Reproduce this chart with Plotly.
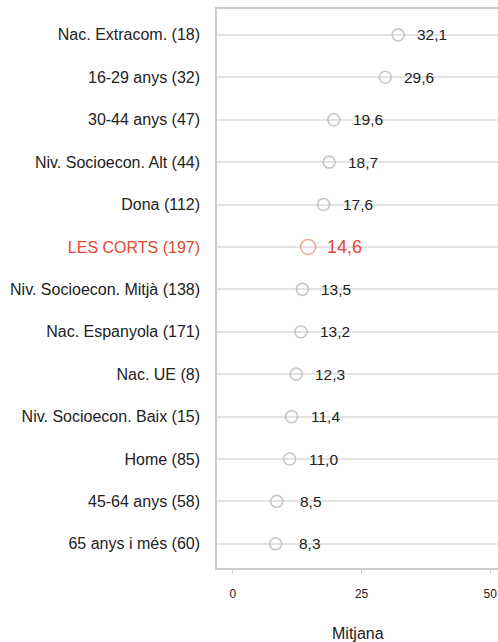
import plotly.graph_objects as go

categories = ["Nac. Extracom. (18)", "16-29 anys (32)", "30-44 anys (47)",
              "Niv. Socioecon. Alt (44)", "Dona (112)", "LES CORTS (197)",
              "Niv. Socioecon. Mitjà (138)", "Nac. Espanyola (171)", "Nac. UE (8)",
              "Niv. Socioecon. Baix (15)", "Home (85)", "45-64 anys (58)",
              "65 anys i més (60)"]
values = [32.1, 29.6, 19.6, 18.7, 17.6, 14.6, 13.5, 13.2, 12.3, 11.4, 11.0, 8.5, 8.3]
highlight = "LES CORTS (197)"
x_ticks = [0, 25, 50]

RED = "#e4472f"
RED_MARK = "#e98a74"
GRAY_MARK = "#a9b4b0"
FONT = "Liberation Sans, Arial, sans-serif"

n = len(categories)
ypos = list(range(n))

fig = go.Figure()
fig.add_trace(go.Scatter(
    x=values, y=ypos, mode="markers",
    marker=dict(
        symbol="circle-open",
        size=[15 if c == highlight else 12 for c in categories],
        color=[RED_MARK if c == highlight else GRAY_MARK for c in categories],
        line=dict(width=1.6),
    ),
    hoverinfo="skip", showlegend=False,
))

for c, v, y in zip(categories, values, ypos):
    hl = c == highlight
    fig.add_annotation(
        x=v, y=y, xref="x", yref="y",
        text=f"{v:.1f}".replace(".", ","),
        showarrow=False, xanchor="center", yanchor="middle",
        xshift=36 if hl else 34,
        font=dict(family=FONT, size=18 if hl else 15.5, color=RED if hl else "#222222"),
    )

fig.add_annotation(
    x=0.5, y=0, xref="paper", yref="paper", yshift=-65,
    text="Mitjana", showarrow=False, xanchor="center", yanchor="middle",
    font=dict(family=FONT, size=16, color="#222222"),
)

ticktext = [f"<span style='color:{RED}'>{c}</span>" if c == highlight else c
            for c in categories]

fig.update_layout(
    width=498, height=642,
    margin=dict(l=217, r=0, t=9, b=74),
    paper_bgcolor="white", plot_bgcolor="white",
    font=dict(family=FONT, color="#222222", size=16),
    hovermode=False,
    xaxis=dict(
        range=[-3.1, 51.5], tickvals=x_ticks, ticktext=[str(t) for t in x_ticks],
        showgrid=False, zeroline=False, automargin=False,
        showline=True, linecolor="#cccccc", linewidth=1.5, mirror=True,
        ticks="outside", ticklen=4, tickcolor="#cccccc",
        tickfont=dict(size=12, color="#222222"),
        ticklabelstandoff=10,
    ),
    yaxis=dict(
        range=[n - 1 + 0.57, -0.61], tickvals=ypos, ticktext=ticktext,
        showgrid=True, gridcolor="#e3e3e3", gridwidth=1.5, zeroline=False,
        automargin=False,
        showline=True, linecolor="#cccccc", linewidth=1.5, mirror=False,
        ticks="", ticklabelstandoff=12,
        tickfont=dict(size=16, color="#222222"),
    ),
)

fig.write_html(
    "out.html",
    config={"displayModeBar": False},
    post_script="document.body.style.margin='0';"
                "document.documentElement.style.overflow='hidden';",
)
